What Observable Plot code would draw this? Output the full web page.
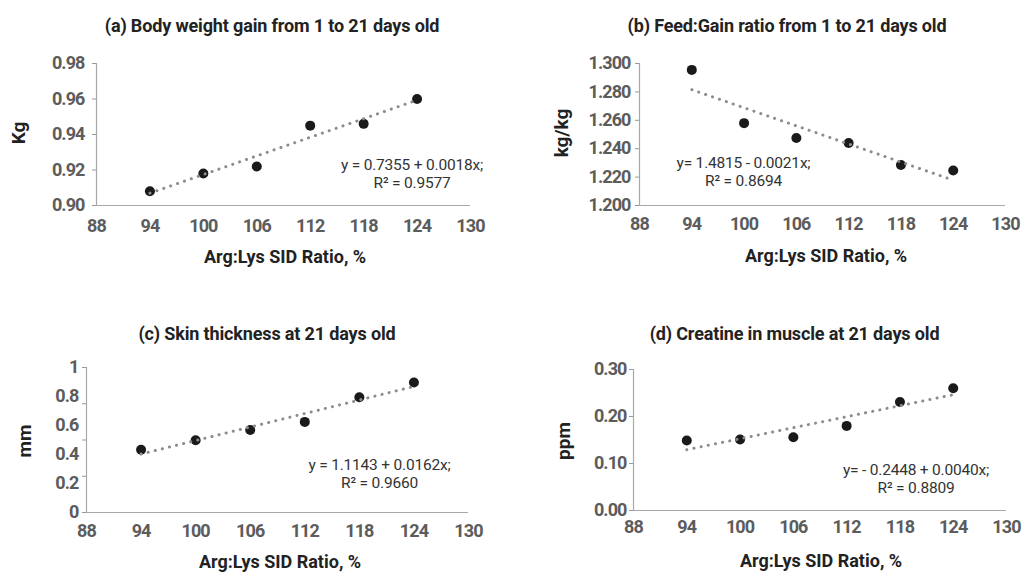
<!DOCTYPE html>
<html><head><meta charset="utf-8">
<script src="https://cdn.jsdelivr.net/npm/d3@7"></script>
<script src="https://cdn.jsdelivr.net/npm/@observablehq/plot@0.6"></script>
<style>
body{margin:0;background:#fff;}
#root{position:relative;width:1022px;height:572px;overflow:hidden;font-family:Roboto,"Noto Sans",sans-serif;background:#fff;}
.panel{position:absolute;width:511px;height:286px;}
.lbl{position:absolute;white-space:nowrap;transform:translate(-50%,-50%);line-height:1;}
.title{font-size:18px;font-weight:700;color:#222;letter-spacing:-0.15px;}
.ylab{font-size:19px;font-weight:700;color:#222;transform:translate(-50%,-50%) rotate(-90deg);}
.xlab{font-size:18px;font-weight:700;color:#222;letter-spacing:0px;}
.eq{font-size:15.5px;font-weight:400;color:#333;text-align:center;line-height:18px;letter-spacing:-0.2px;}
</style></head>
<body><div id="root"></div>
<script>
// ---- data ----
const ratio = [94, 100, 106, 112, 118, 124];
const bodyWeightGain = [0.908, 0.918, 0.922, 0.945, 0.946, 0.960];
const feedGainRatio = [1.2955, 1.258, 1.2475, 1.244, 1.2285, 1.2247];
const skinThickness = [0.433, 0.498, 0.569, 0.625, 0.795, 0.896];
const creatine = [0.149, 0.151, 0.156, 0.180, 0.231, 0.260];
const xTicks = [88, 94, 100, 106, 112, 118, 124, 130];
const yTicksA = [0.90, 0.92, 0.94, 0.96, 0.98];
const yTicksB = [1.200, 1.220, 1.240, 1.260, 1.280, 1.300];
const yTicksC = [0, 0.2, 0.4, 0.6, 0.8, 1];
const yTickMarksC = [0, 0.25, 0.5, 0.75, 1];
const yTicksD = [0.00, 0.10, 0.20, 0.30];
const titles = ["(a) Body weight gain from 1 to 21 days old", "(b) Feed:Gain ratio from 1 to 21 days old", "(c) Skin thickness at 21 days old", "(d) Creatine in muscle at 21 days old"];
const yLabels = ["Kg", "kg/kg", "mm", "ppm"];
const xLabel = "Arg:Lys SID Ratio, %";
const equations = [["y = 0.7355 + 0.0018x;", "R² = 0.9577"], ["y= 1.4815 - 0.0021x;", "R² = 0.8694"], ["y = 1.1143 + 0.0162x;", "R² = 0.9660"], ["y= - 0.2448 + 0.0040x;", "R² = 0.8809"]];

// ---- layout (styles only) ----
const panels = [
  {left:0, top:0, values: bodyWeightGain, yDomain:[0.90,0.98], yTicks:yTicksA, fmt:d3.format(".2f"), m:[63,41,81,96], pad:8, xpad:14,
   title:[272,26], ylab:[18,133], xlab:[285,257], eq:[412,174]},
  {left:511, top:0, values: feedGainRatio, yDomain:[1.2,1.3], yTicks:yTicksB, fmt:d3.format(".3f"), m:[63,17,81,128], pad:5, xpad:12,
   title:[787,26], ylab:[561,133], xlab:[826,256], eq:[743.5,172]},
  {left:0, top:286, values: skinThickness, yDomain:[0,1], yTicks:yTicksC, tickMarks:yTickMarksC, fmt:d => String(d), m:[81,43,60,86], pad:4, xpad:12,
   title:[267,334], ylab:[24,441], xlab:[280,562], eq:[379.5,474]},
  {left:511, top:286, values: creatine, yDomain:[0,0.3], yTicks:yTicksD, fmt:d3.format(".2f"), m:[83,16,62,122], pad:3, xpad:10,
   title:[794.5,334], ylab:[562.7,441], xlab:[821,561], eq:[916,479]}
];

const root = document.getElementById("root");
panels.forEach((p, i) => {
  const data = ratio.map((x, j) => ({x, y: p.values[j]}));
  const axisFont = {fontSize: 18, fontWeight: 700, fill: "#5c5c5c"};
  const yAxes = p.tickMarks
    ? [Plot.axisY({ticks: p.tickMarks, tickSize: 4, stroke: "#999", text: null, label: null}),
       Plot.axisY({ticks: p.yTicks, tickSize: 0, tickPadding: 4 + p.pad, tickFormat: p.fmt, label: null, ...axisFont})]
    : [Plot.axisY({ticks: p.yTicks, tickSize: 4, tickPadding: p.pad, stroke: "#999", tickFormat: p.fmt, label: null, ...axisFont})];
  const chart = Plot.plot({
    width: 511, height: 286,
    marginTop: p.m[0], marginRight: p.m[1], marginBottom: p.m[2], marginLeft: p.m[3],
    style: {fontFamily: "Roboto, sans-serif", background: "transparent", overflow: "visible", letterSpacing: "-0.9px"},
    x: {domain: [88, 130]},
    y: {domain: p.yDomain},
    marks: [
      Plot.ruleX([88], {stroke: "#a8a8a8", strokeWidth: 1.2}),
      Plot.ruleY([p.yDomain[0]], {stroke: "#a8a8a8", strokeWidth: 1.2}),
      ...yAxes,
      Plot.axisX({ticks: xTicks, tickSize: 0, tickPadding: p.xpad, tickFormat: d => String(d), label: null, ...axisFont}),
      Plot.dot(data, {x: "x", y: "y", r: 5, fill: "#1a1a1a", stroke: "none"}),
      Plot.linearRegressionY(data, {x: "x", y: "y", ci: 0, stroke: "#8c8c8c", strokeWidth: 3, strokeDasharray: "0.1 7.2", strokeLinecap: "round"})
    ]
  });
  const holder = document.createElement("div");
  holder.className = "panel";
  holder.style.left = p.left + "px";
  holder.style.top = p.top + "px";
  holder.appendChild(chart);
  root.appendChild(holder);

  const add = (cls, text, pos) => {
    const d = document.createElement("div");
    d.className = "lbl " + cls;
    d.style.left = pos[0] + "px";
    d.style.top = pos[1] + "px";
    if (Array.isArray(text)) d.innerHTML = text.map(t => `<div>${t}</div>`).join("");
    else d.textContent = text;
    root.appendChild(d);
  };
  add("title", titles[i], p.title);
  add("ylab", yLabels[i], p.ylab);
  add("xlab", xLabel, p.xlab);
  add("eq", equations[i], p.eq);
});
</script></body></html>
